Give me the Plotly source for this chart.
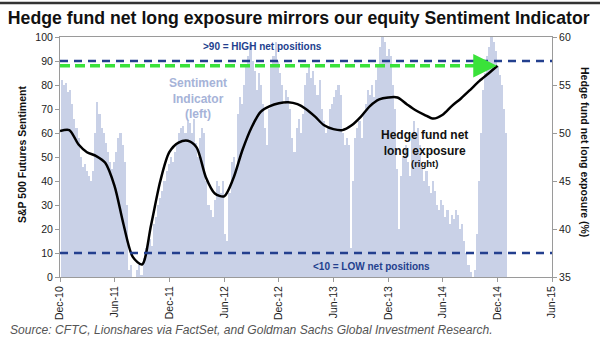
import pandas as pd
import plotly.graph_objects as go

# Weekly S&P 500 futures sentiment indicator (left axis), Dec 2010 - Jan 2015
sentiment = [
    82, 80, 81, 77, 78, 72, 66, 62, 58, 50, 46, 47, 44, 42, 40, 44, 60, 73, 68, 62,
    60, 56, 52, 48, 45, 48, 52, 58, 60, 55, 48, 30, 3, 5, 0, 0, 3, 5, 1, 8,
    12, 14, 16, 13, 22, 25, 30, 33, 36, 40, 44, 47, 50, 48, 52, 55, 60, 62, 63, 60,
    65, 64, 60, 66, 56, 50, 58, 62, 60, 40, 30, 28, 25, 32, 40, 38, 35, 40,
    18, 15, 35, 48, 50, 45, 68, 75, 72, 80, 88, 92, 97, 90, 86, 78, 85, 80, 72, 62,
    55, 70, 88, 92, 98, 90, 85, 80, 72, 78, 75, 70, 58, 52, 62, 66, 60, 68, 80, 85,
    88, 83, 86, 80, 76, 82, 70, 65, 60, 62, 70, 72, 75, 78, 80, 76, 60, 55, 58, 55,
    12, 40, 58, 62, 65, 58, 68, 72, 78, 76, 80, 75, 82, 88, 96, 100, 98, 92, 95, 92,
    80,
    70, 45, 20, 42, 50, 55, 48, 42, 60, 65, 58, 62, 55, 45, 40, 44, 38, 35, 40, 36,
    30, 28, 32, 30, 25, 28, 22, 26, 24, 28, 26, 20, 22, 15, 10, 5, 2, 0, 3, 18,
    40, 60, 78, 85, 92, 96, 100, 98, 94, 88, 84, 80, 70, 60,
]
sentiment_dates = pd.date_range("2010-12-07", periods=len(sentiment), freq="7D")

# Monthly hedge fund net long exposure (%) (right axis)
hedge_fund = [
    50.2, 50.3, 48.8, 48.0, 47.6, 46.9, 44.5, 40.5, 37.1, 36.3,
    40.4, 45.0, 48.0, 49.0, 49.2, 48.5, 45.4, 43.7, 43.4, 45.2,
    48.2, 50.6, 52.2, 52.8, 53.1, 53.2, 53.0, 52.5, 51.7, 50.8,
    50.4, 50.3, 50.8, 51.7, 52.8, 53.5, 53.7, 53.7, 53.0, 52.4,
    51.9, 51.5, 51.9, 52.8, 53.6, 54.5, 55.4, 56.2, 57.0,
]
hedge_dates = pd.date_range("2010-12-01", periods=len(hedge_fund), freq="MS")

tick_dates = pd.date_range("2010-12-01", "2015-06-01", freq="6MS")
tick_labels = [d.strftime("%b-%y") for d in tick_dates]

high_level = 90
low_level = 10
green_level = 88

FONT = "Liberation Sans, Arial, sans-serif"
NAVY = "#233f8e"
GREEN = "#3ae23a"
BAR = "#c9d1e7"

fig = go.Figure()
fig.add_trace(go.Bar(x=sentiment_dates, y=sentiment, marker=dict(color=BAR, line=dict(width=0)),
                     yaxis="y", showlegend=False))
fig.add_trace(go.Scatter(x=hedge_dates, y=hedge_fund, mode="lines", yaxis="y2",
                         line=dict(color="black", width=2.5, shape="spline", smoothing=0.8),
                         showlegend=False))

axis_common = dict(showgrid=False, zeroline=False, showline=True, linecolor="#9a9a9a", linewidth=1,
                   ticks="outside", ticklen=4, tickcolor="#9a9a9a",
                   tickfont=dict(family=FONT, size=10.5, color="#222"))

fig.update_layout(
    width=600, height=347,
    margin=dict(l=60, r=48, t=37, b=70),
    paper_bgcolor="white", plot_bgcolor="white",
    bargap=0,
    xaxis=dict(type="date", range=["2010-12-01", "2015-06-01"], tickvals=tick_dates,
               ticktext=tick_labels, tickangle=-90, mirror=True, **axis_common),
    yaxis=dict(range=[0, 100], dtick=10, **axis_common),
    yaxis2=dict(range=[35, 60], dtick=5, overlaying="y", side="right", **axis_common),
    title=dict(text="<b>Hedge fund net long exposure mirrors our equity Sentiment Indicator</b>",
               x=0.013, xanchor="left", xref="container", y=1 - 18 / 347, yanchor="middle",
               yref="container", font=dict(family=FONT, size=17.7, color="#111")),
)

# reference lines
fig.add_shape(type="line", xref="paper", yref="y", x0=0, x1=1, y0=high_level, y1=high_level,
              line=dict(color=NAVY, width=2.5, dash="8px,6px"))
fig.add_shape(type="line", xref="paper", yref="y", x0=0, x1=1, y0=low_level, y1=low_level,
              line=dict(color=NAVY, width=2.5, dash="8px,6px"))
fig.add_shape(type="line", xref="x", yref="y", x0="2010-12-01", x1="2014-10-25",
              y0=green_level, y1=green_level, line=dict(color=GREEN, width=3.5, dash="10px,5px"))
fig.add_annotation(x="2014-11-29", y=green_level, xref="x", yref="y", ax=-22, ay=0,
                   showarrow=True, arrowhead=2, arrowsize=1.35, arrowwidth=3.5, arrowcolor=GREEN, text="")
# top rule above title
fig.add_shape(type="line", xref="paper", yref="paper", x0=-60 / 492, x1=540 / 492,
              y0=(277 - 3) / 240, y1=(277 - 3) / 240, line=dict(color="#333", width=2.5))

def px_x(p):
    return (p - 60) / 492

def px_y(p):
    return (277 - p) / 240

ann = [
    dict(text="<b>>90 = HIGH net positions</b>", x=px_x(262), y=px_y(47), size=10, color=NAVY),
    dict(text="<b><10 = LOW net positions</b>", x=px_x(371), y=px_y(266), size=10, color=NAVY),
    dict(text="<b>Sentiment<br>Indicator<br>(left)</b>", x=px_x(198), y=px_y(98), size=12, color="#a6b3d8"),
    dict(text="<b>Hedge fund net<br>long exposure</b>", x=px_x(424), y=px_y(143), size=12, color="#111"),
    dict(text="<b>(right)</b>", x=px_x(424), y=px_y(163), size=9.5, color="#111"),
]
for a in ann:
    fig.add_annotation(text=a["text"], x=a["x"], y=a["y"], xref="paper", yref="paper", showarrow=False,
                       xanchor="center", yanchor="middle", align="center",
                       font=dict(family=FONT, size=a["size"], color=a["color"]))

fig.add_annotation(text="<b>S&P 500 Futures Sentiment</b>", x=px_x(22), y=px_y(155), xref="paper",
                   yref="paper", showarrow=False, textangle=-90, xanchor="center", yanchor="middle",
                   font=dict(family=FONT, size=10.5, color="#111"))
fig.add_annotation(text="<b>Hedge fund net long exposure (%)</b>", x=px_x(585), y=px_y(152), xref="paper",
                   yref="paper", showarrow=False, textangle=90, xanchor="center", yanchor="middle",
                   font=dict(family=FONT, size=10.5, color="#111"))
fig.add_annotation(text="<i>Source: CFTC, Lionshares via FactSet, and Goldman Sachs Global Investment Research.</i>",
                   x=px_x(8), y=px_y(330), xref="paper", yref="paper", showarrow=False,
                   xanchor="left", yanchor="middle", font=dict(family=FONT, size=12.1, color="#555"))

fig.write_html("out.html")
